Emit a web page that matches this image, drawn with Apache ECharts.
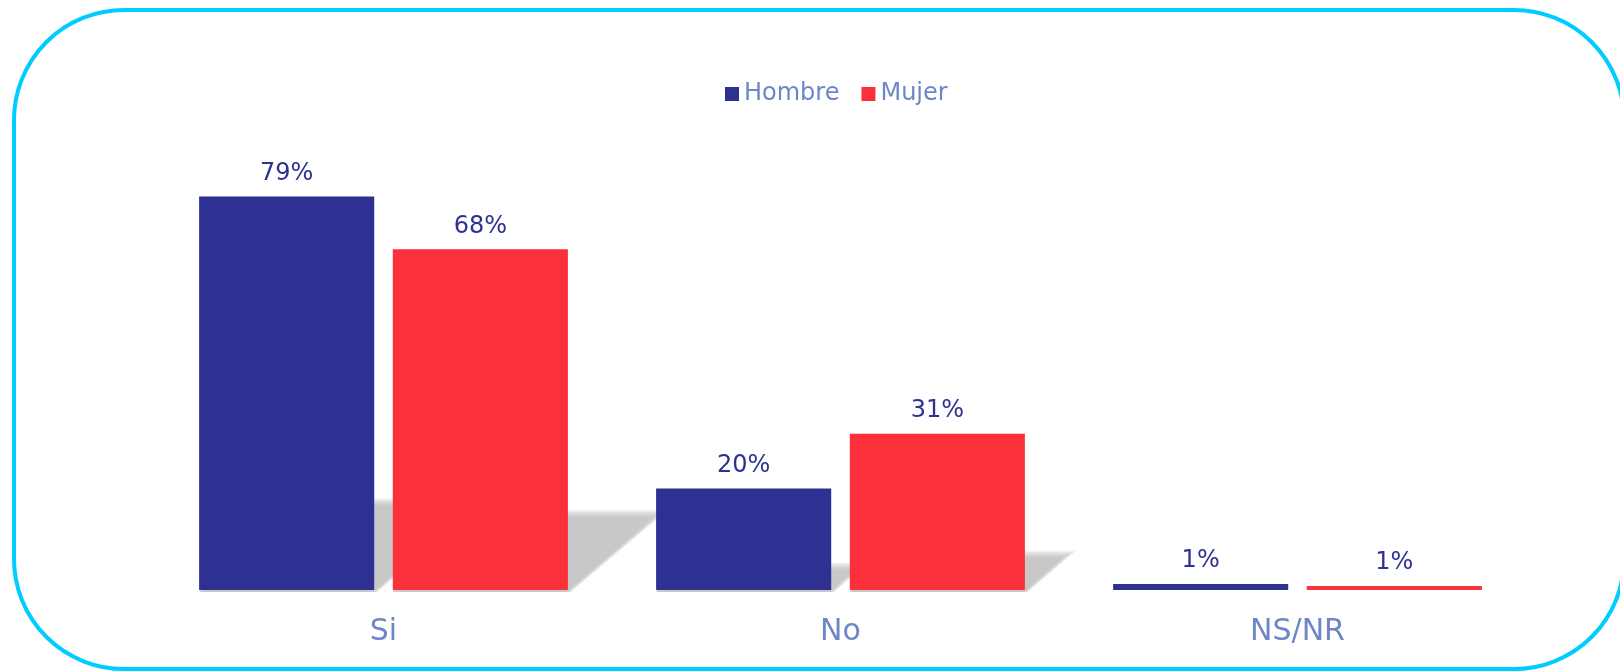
<!DOCTYPE html>
<html>
<head>
<meta charset="utf-8">
<script src="https://cdn.jsdelivr.net/npm/echarts@6/dist/echarts.min.js"></script>
<style>
  html, body { margin: 0; padding: 0; background: #fff; }
  #chart { width: 1620px; height: 671px; }
</style>
</head>
<body>
<div id="chart"></div>
<script>
var categories = ['Si', 'No', 'NS/NR'];
var hombre = [79, 20.4, 1.2];
var mujer = [68.4, 31.4, 0.8];

var catGap = 0.193;
var barGap = 0.106;

// sombra inclinada y difuminada detras de cada barra
function shadowItem(seriesPos) {
  return function (params, api) {
    var i = api.value(0);
    var v = api.value(1);
    var base = api.coord([i, 0]);
    var top = api.coord([i, v]);
    var band = api.size([1, 0])[0];
    var barW = band * (1 - catGap) / (2 + barGap);
    var x0 = base[0] - band * (1 - catGap) / 2 + seriesPos * barW * (1 + barGap);
    var x1 = x0 + barW;
    var h = (base[1] - top[1]) * 0.22;
    if (h < 3) return null;
    var o = h * 1.2;
    var y = base[1];
    var layers = [];
    for (var k = 0; k < 8; k++) {
      var e = 10 - k * 2.2;
      layers.push({
        type: 'polygon',
        shape: { points: [[x0, y + 2], [x1 + e * 0.3, y + 2], [x1 + o + e, y - h - e * 0.5], [x0 + o, y - h - e * 0.5]] },
        style: { fill: 'rgba(190,190,190,0.2)' },
        silent: true
      });
    }
    return { type: 'group', children: layers };
  };
}

var myChart = echarts.init(document.getElementById('chart'));
var option = {
  animation: false,
  textStyle: { fontFamily: 'DejaVu Sans' },
  graphic: [{
    type: 'rect',
    shape: { x: 14, y: 10, width: 1610, height: 659, r: 110 },
    style: { fill: 'none', stroke: '#00CCFF', lineWidth: 4 },
    z: 100
  }],
  legend: {
    data: ['Hombre', 'Mujer'],
    left: 725,
    top: 82,
    padding: 0,
    itemWidth: 14,
    itemHeight: 14,
    itemGap: 22,
    icon: 'rect',
    textStyle: { color: '#6D87C6', fontSize: 24, fontFamily: 'DejaVu Sans' }
  },
  grid: { left: 155, right: 94, top: 92, bottom: 81 },
  xAxis: {
    type: 'category',
    data: categories,
    axisLine: { show: false },
    axisTick: { show: false },
    axisLabel: { color: '#6D87C6', fontSize: 30, margin: 27, fontFamily: 'DejaVu Sans' }
  },
  yAxis: { type: 'value', min: 0, max: 100, show: false, splitLine: { show: false } },
  series: [
    {
      type: 'custom',
      data: hombre.map(function (v, i) { return [i, v]; }),
      renderItem: shadowItem(0),
      z: 1
    },
    {
      type: 'custom',
      data: mujer.map(function (v, i) { return [i, v]; }),
      renderItem: shadowItem(1),
      z: 1
    },
    {
      name: 'Hombre',
      type: 'bar',
      data: hombre,
      barCategoryGap: (catGap * 100) + '%',
      barGap: (barGap * 100) + '%',
      itemStyle: { color: '#2E3192' },
      label: {
        show: true, position: 'top', distance: 11, color: '#2E3192', fontSize: 24,
        formatter: function (p) { return Math.round(p.value) + '%'; }
      },
      z: 2
    },
    {
      name: 'Mujer',
      type: 'bar',
      data: mujer,
      itemStyle: { color: '#FC303B' },
      label: {
        show: true, position: 'top', distance: 11, color: '#2E3192', fontSize: 24,
        formatter: function (p) { return Math.round(p.value) + '%'; }
      },
      z: 2
    }
  ]
};
myChart.setOption(option);
</script>
</body>
</html>
